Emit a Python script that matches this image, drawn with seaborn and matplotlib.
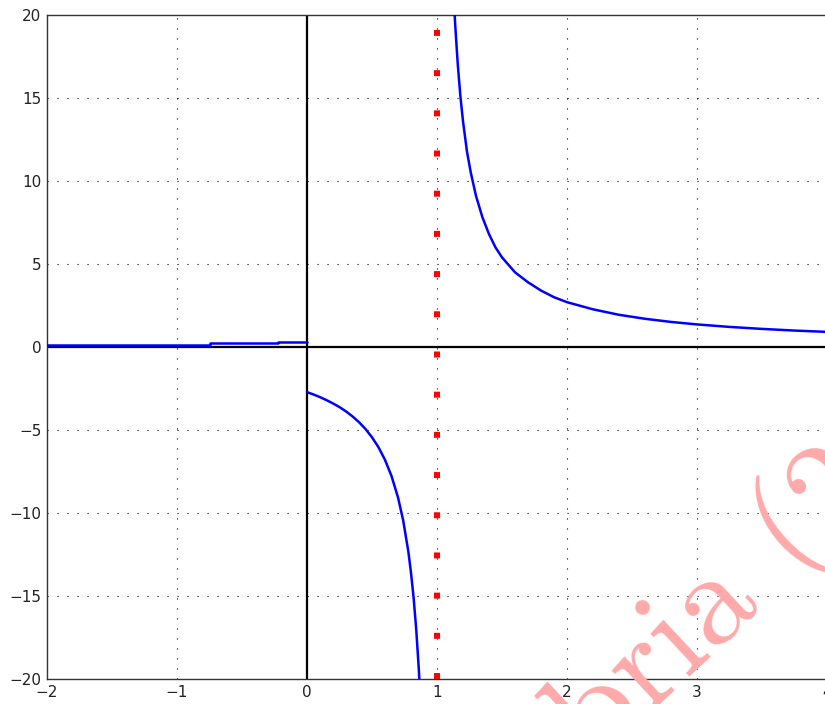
import numpy as np
import matplotlib
matplotlib.use('Agg')
import matplotlib.pyplot as plt
import seaborn as sns

# values
x_left = [-2.0, -0.75, -0.75, -0.22, -0.22, 0.0]
y_left = [0.13, 0.13, 0.25, 0.25, 0.33, 0.33]

x_mid = [0.0, 0.05, 0.1, 0.15, 0.2, 0.25, 0.3, 0.35, 0.4, 0.45, 0.5, 0.55,
         0.6, 0.65, 0.7, 0.74, 0.78, 0.8, 0.82, 0.84, 0.86, 0.87]
y_mid = [-2.72, -2.86, -3.02, -3.2, -3.4, -3.62, -3.88, -4.18, -4.53, -4.94, -5.44, -6.04,
         -6.8, -7.77, -9.06, -10.45, -12.35, -13.6, -15.1, -17.0, -19.4, -20.9]

x_right = [1.13, 1.14, 1.16, 1.18, 1.2, 1.23, 1.26, 1.3, 1.35, 1.4, 1.45, 1.5, 1.6, 1.7,
           1.8, 1.9, 2.0, 2.2, 2.4, 2.6, 2.8, 3.0, 3.25, 3.5, 3.75, 4.0]
y_right = [20.9, 19.4, 17.0, 15.1, 13.6, 11.8, 10.5, 9.1, 7.8, 6.8, 6.0, 5.4, 4.5, 3.9,
           3.4, 3.0, 2.7, 2.27, 1.94, 1.7, 1.51, 1.36, 1.21, 1.09, 0.99, 0.91]

asymptote_x = 1
x_ticks = [-2, -1, 0, 1, 2, 3, 4]
y_ticks = [-20, -15, -10, -5, 0, 5, 10, 15, 20]
watermark = 'bria (2012)'

sns.set_style('white')
plt.rcParams['font.family'] = ['DejaVu Sans']

fig = plt.figure(figsize=(8.25, 7.04), dpi=100)
ax = fig.add_axes([47 / 825, 1 - 679 / 704, 780 / 825, 664 / 704])

# grid, dotted
for xv in x_ticks:
    if xv not in (0, -2, 4):
        ax.axvline(xv, color='black', lw=0.8, ls=(0, (1, 8)), zorder=1)
for yv in y_ticks:
    if yv not in (0, -20, 20):
        ax.axhline(yv, color='black', lw=0.8, ls=(0, (1, 8)), zorder=1)

ax.axhline(0, color='black', lw=1.6, zorder=2)
ax.axvline(0, color='black', lw=1.6, zorder=2)

# asymptote
ax.axvline(asymptote_x, color='red', lw=4.3, ls=(0, (1, 5.73)),
           solid_capstyle='butt', dash_capstyle='butt', zorder=3)

for xs, ys in [(x_left, y_left), (x_mid, y_mid), (x_right, y_right)]:
    sns.lineplot(x=xs, y=ys, color='#0000ff', lw=1.8, sort=False,
                 estimator=None, ax=ax, zorder=4)

ax.set_xlim(-2, 4)
ax.set_ylim(-20, 20)
ax.set_xticks(x_ticks)
ax.set_yticks(y_ticks)
ax.tick_params(direction='in', length=4, width=1, colors='#333333',
               labelsize=11, labelcolor='#222222', pad=4)
for s in ax.spines.values():
    s.set_color('#333333')
    s.set_linewidth(1)

fig.text(595 / 825, 1 - 765 / 704, watermark, color='#ffaaaa', fontsize=96,
         family='cmr10', rotation=43, rotation_mode='anchor',
         ha='left', va='baseline', zorder=0)

fig.savefig('out.png', dpi=100)
